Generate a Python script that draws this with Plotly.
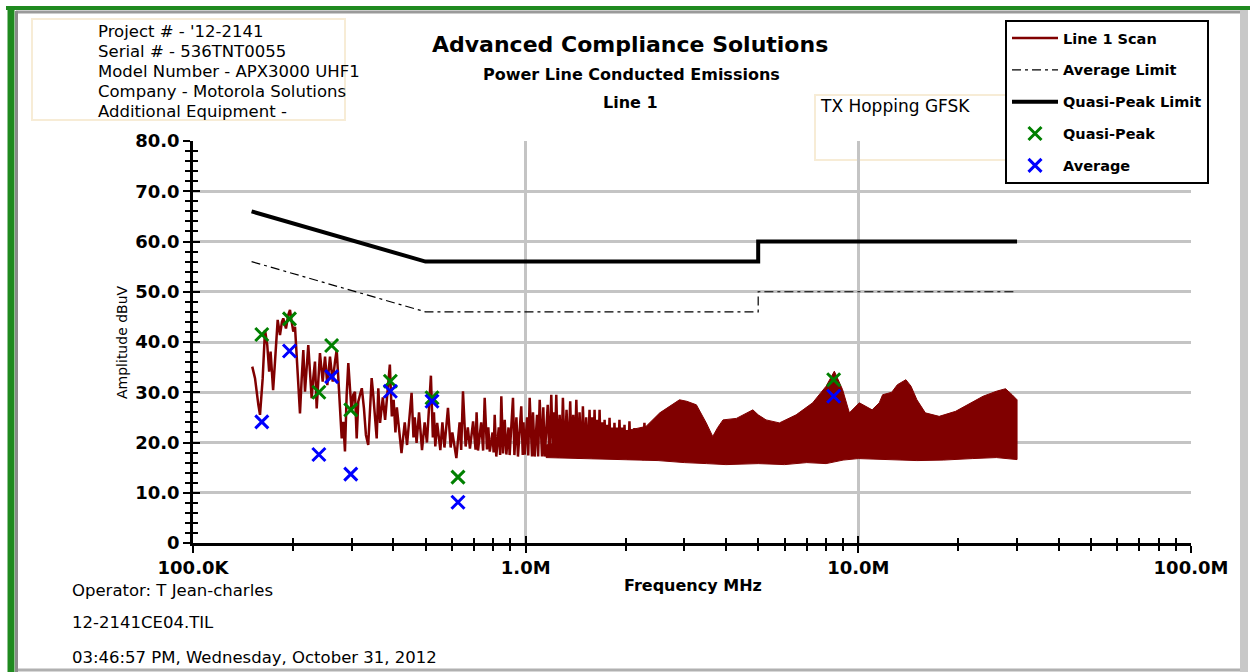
import plotly.graph_objects as go

# ---------------- data ----------------
# Line 1 scan, resolved part (MHz, dBuV)
scan_freq = [
    0.1507, 0.1536, 0.1572, 0.1590, 0.1620, 0.1646, 0.1672, 0.1694, 0.1711, 0.1741,
    0.1764, 0.1797, 0.1826, 0.1851, 0.1868, 0.1903, 0.1934, 0.1957, 0.1980, 0.2002,
    0.2026, 0.2058, 0.2097, 0.2122, 0.2146, 0.2171, 0.2197, 0.2221, 0.2247, 0.2273,
    0.2299, 0.2326, 0.2354, 0.2380, 0.2408, 0.2437, 0.2454, 0.2494, 0.2534, 0.2581,
    0.2630, 0.2672, 0.2704, 0.2734, 0.2766, 0.2799, 0.2830, 0.2863, 0.2897, 0.2930,
    0.2964, 0.2999, 0.3032, 0.3068, 0.3105, 0.3139, 0.3177, 0.3217, 0.3265, 0.3310,
    0.3363, 0.3404, 0.3444, 0.3482, 0.3524, 0.3566, 0.3606, 0.3650, 0.3720, 0.3780,
    0.3906, 0.3960, 0.4010, 0.4060, 0.4100, 0.4234, 0.4330, 0.4400, 0.4540, 0.4600,
    0.4640, 0.4700, 0.4780, 0.4880, 0.4970, 0.5050, 0.5190, 0.5260, 0.5300, 0.5350,
    0.5420, 0.5540, 0.5620, 0.5700, 0.5840, 0.5950, 0.6020, 0.6190, 0.6330, 0.6400,
    0.6480, 0.6600, 0.6700, 0.6800, 0.6950, 0.7070, 0.7120, 0.7190, 0.7350, 0.7450,
    0.7530, 0.7650, 0.7720, 0.7800, 0.7950, 0.8010, 0.8070, 0.8160, 0.8300, 0.8380,
    0.8450, 0.8550, 0.8650, 0.8750, 0.8880, 0.8950, 0.9160, 0.9250, 0.9380, 0.9480,
    0.9700, 0.9800, 0.9850, 0.9930, 1.0100, 1.0180, 1.0280, 1.0450, 1.0520, 1.0640,
    1.0820, 1.0900, 1.1020, 1.1200, 1.1300, 1.1410, 1.1650, 1.1780, 1.1940, 1.2080,
    1.2150, 1.2220, 1.2360, 1.2500, 1.2650, 1.2800, 1.2940, 1.3100, 1.3270, 1.3440,
    1.3610, 1.3760, 1.3900, 1.4050, 1.4200, 1.4360, 1.4520, 1.4690, 1.4860, 1.5030,
    1.5200, 1.5380, 1.5560, 1.5690, 1.5830, 1.5970, 1.6110, 1.6250, 1.6400, 1.6540,
    1.6680, 1.6820, 1.6970, 1.7120, 1.7270, 1.7420, 1.7570, 1.7720, 1.7870, 1.8020,
    1.8180, 1.8330, 1.8490, 1.8650, 1.8810, 1.8970, 1.9140, 1.9310, 1.9480, 1.9650,
    1.9820, 1.9990, 2.0160, 2.0330, 2.0510, 2.0690, 2.0870, 2.1050, 2.1230, 2.1410,
    2.1600, 2.1790, 2.1980, 2.2170, 2.2360, 2.2550, 2.2750, 2.3100]
scan_amp = [
    35.1, 32.8, 27.5, 25.5, 32.8, 42.4, 39.4, 34.1, 38.1, 30.4,
    36.1, 44.4, 41.4, 44.0, 44.7, 42.7, 45.4, 46.4, 44.0, 42.1,
    43.0, 36.1, 25.8, 32.8, 38.4, 30.1, 36.1, 39.4, 34.1, 28.8,
    32.8, 36.1, 26.8, 32.1, 37.8, 34.1, 32.1, 37.1, 31.4, 37.1,
    32.1, 36.1, 38.4, 32.8, 27.5, 20.8, 24.1, 18.2, 29.5, 35.8,
    30.8, 26.1, 29.5, 30.1, 20.8, 28.1, 29.5, 30.8, 26.8, 21.5,
    19.5, 27.5, 32.8, 29.5, 24.1, 20.8, 30.8, 23.9, 29.0, 24.5,
    35.5, 25.2, 28.5, 22.0, 27.0, 17.9, 24.0, 19.5, 29.9, 21.0,
    25.0, 19.9, 26.0, 18.5, 24.0, 20.0, 33.3, 21.0, 26.0, 19.2,
    23.9, 18.5, 24.0, 19.0, 26.9, 19.0, 22.0, 16.9, 24.0, 18.5,
    30.2, 19.2, 23.0, 18.8, 24.2, 18.6, 26.0, 18.4, 24.0, 18.4,
    28.9, 18.6, 23.0, 18.2, 22.0, 18.0, 25.5, 17.2, 23.0, 17.5,
    29.2, 17.8, 24.5, 17.6, 23.0, 17.5, 28.9, 17.5, 25.0, 17.2,
    27.2, 17.5, 24.0, 17.6, 25.0, 17.4, 28.9, 17.2, 26.0, 17.2,
    25.5, 17.2, 28.5, 17.2, 27.0, 17.2, 27.5, 17.2, 29.5, 17.2,
    26.0, 17.2, 29.5, 17.0, 25.5, 17.0, 28.9, 17.0, 26.5, 17.0,
    28.2, 17.0, 25.5, 17.0, 28.5, 16.8, 26.0, 16.8, 27.2, 17.0,
    25.0, 17.0, 26.5, 17.0, 25.0, 16.8, 26.5, 16.8, 24.5, 16.8,
    26.5, 17.0, 24.0, 17.0, 24.5, 17.0, 23.5, 17.0, 24.9, 16.8,
    23.0, 16.8, 23.9, 17.0, 23.0, 16.8, 24.5, 16.8, 23.0, 16.8,
    23.5, 16.8, 22.5, 16.6, 24.2, 16.6, 22.5, 16.6, 22.9, 16.6,
    22.0, 16.6, 22.5, 16.6, 23.0, 16.5, 23.9, 16.5]

# Line 1 scan, dense part: upper and lower envelope of the band (MHz, dBuV)
band_up_freq = [1.15, 1.5, 1.9, 2.3, 2.53, 2.7, 2.9, 3.05, 3.26, 3.49, 3.65, 3.78, 3.92, 4.3,
                4.82, 5.0, 5.28, 5.79, 6.5, 7.29, 8.0, 8.47, 8.97, 9.4, 10.07, 11.0, 11.56,
                11.83, 12.6, 13.1, 13.9, 14.4, 15.0, 15.9, 17.5, 19.6, 21.8, 23.7, 26.0,
                27.7, 29.0, 30.0]
band_up_amp = [19.5, 21.0, 22.0, 23.2, 25.9, 27.2, 28.5, 28.2, 27.5, 23.9, 21.2, 23.0, 24.5, 24.8,
               26.5, 25.5, 24.5, 23.9, 25.5, 27.9, 31.2, 34.2, 30.5, 25.9, 27.9, 26.5, 27.9,
               29.5, 30.0, 31.5, 32.5, 31.2, 28.5, 25.9, 25.2, 26.2, 27.9, 29.2, 30.2,
               30.7, 29.5, 28.5]
band_lo_freq = [1.15, 1.5, 2.0, 2.5, 3.0, 3.5, 4.0, 5.0, 6.0, 7.0, 8.0, 9.0, 10.0, 12.0,
                15.0, 18.0, 22.0, 26.0, 30.0]
band_lo_amp = [17.0, 16.8, 16.6, 16.4, 16.0, 15.8, 15.6, 15.8, 15.6, 16.0, 15.8, 16.5, 16.8, 16.6,
               16.4, 16.5, 16.8, 17.0, 16.6]

# Limits
limit_freq = [0.15, 0.5, 5.0, 5.0, 30.0]
qp_limit = [66.0, 56.0, 56.0, 60.0, 60.0]
avg_limit = [56.0, 46.0, 46.0, 50.0, 50.0]

# Measured points
meas_freq = [0.161, 0.195, 0.239, 0.261, 0.298, 0.392, 0.523, 0.626, 8.43]
qp_amp = [41.5, 44.6, 30.0, 39.3, 26.5, 32.2, 28.9, 13.1, 32.5]
av_amp = [24.1, 38.2, 17.6, 33.1, 13.7, 30.2, 28.2, 8.1, 29.2]

# Axes
y_ticks = [0, 10, 20, 30, 40, 50, 60, 70, 80]
y_tick_text = ["0", "10.0", "20.0", "30.0", "40.0", "50.0", "60.0", "70.0", "80.0"]
x_ticks = [0.1, 1, 10, 100]
x_tick_text = ["100.0K", "1.0M", "10.0M", "100.0M"]
x_minor = [m * d for d in (0.1, 1, 10) for m in range(2, 10)]
y_minor = [v for v in range(0, 81, 2) if v % 10]

info_lines = ["Project # - '12-2141", "Serial # - 536TNT0055", "Model Number - APX3000 UHF1",
              "Company - Motorola Solutions", "Additional Equipment -"]
footer_lines = ["Operator: T Jean-charles", "12-2141CE04.TIL",
                "03:46:57 PM, Wednesday, October 31, 2012"]

# ---------------- layout helpers ----------------
W, H = 1250, 672
L, R, T, B = 193, 1191, 141, 543
FONT = "DejaVu Sans"


def px(x):
    return (x - L) / (R - L)


def py(y):
    return (B - y) / (B - T)


fig = go.Figure()

# band polygon (dense part of scan)
band_x = band_up_freq + band_lo_freq[::-1]
band_y = band_up_amp + band_lo_amp[::-1]
fig.add_trace(go.Scatter(x=band_x, y=band_y, mode="lines", fill="toself",
                         fillcolor="#800000", line=dict(color="#800000", width=1),
                         showlegend=False, hoverinfo="skip", legendgroup="scan"))
fig.add_trace(go.Scatter(x=scan_freq, y=scan_amp, mode="lines", name="Line 1 Scan",
                         line=dict(color="#800000", width=2.5), legendgroup="scan"))
fig.add_trace(go.Scatter(x=limit_freq, y=avg_limit, mode="lines", name="Average Limit",
                         line=dict(color="black", width=1.2, dash="9px,4px,3px,4px"),
                         legendgroup="al"))
fig.add_trace(go.Scatter(x=limit_freq, y=qp_limit, mode="lines", name="Quasi-Peak Limit",
                         line=dict(color="black", width=4), legendgroup="ql"))
fig.add_trace(go.Scatter(x=meas_freq, y=qp_amp, mode="markers", name="Quasi-Peak",
                         marker=dict(symbol="x-thin", size=13, color="#008000",
                                     line=dict(color="#008000", width=3)),
                         legendgroup="qp"))
fig.add_trace(go.Scatter(x=meas_freq, y=av_amp, mode="markers", name="Average",
                         marker=dict(symbol="x-thin", size=13, color="#0000ff",
                                     line=dict(color="#0000ff", width=3)),
                         legendgroup="av"))
# dummy trace to show the overlay axes (inner half of crossing ticks)
fig.add_trace(go.Scatter(x=[1], y=[-10], xaxis="x2", yaxis="y2", mode="markers",
                         marker=dict(opacity=0), showlegend=False, hoverinfo="skip"))

tick_font = dict(family=FONT, size=18, color="black", weight="bold")

fig.update_layout(
    width=W, height=H,
    margin=dict(l=L, r=W - R, t=T, b=H - B, pad=0),
    paper_bgcolor="white", plot_bgcolor="white",
    showlegend=True,
    legend=dict(x=px(1005), y=py(20), xanchor="left", yanchor="top",
                bgcolor="white", bordercolor="black", borderwidth=2,
                font=dict(family=FONT, size=14.5, color="black", weight="bold"),
                traceorder="grouped", tracegroupgap=10, itemwidth=46),
    xaxis=dict(type="log", range=[-1, 2], tickmode="array", tickvals=x_ticks,
               ticktext=x_tick_text, tickfont=tick_font, ticks="outside", ticklen=7,
               tickwidth=2, tickcolor="black", showline=True, linecolor="black",
               linewidth=2.5, showgrid=True, gridcolor="#c4c4c4", gridwidth=3,
               zeroline=False, fixedrange=True,
               minor=dict(tickvals=x_minor, ticks="outside", ticklen=5, tickwidth=2,
                          tickcolor="black", showgrid=False)),
    yaxis=dict(range=[0, 80], tickmode="array", tickvals=y_ticks, ticktext=y_tick_text,
               tickfont=tick_font, ticks="outside", ticklen=7, tickwidth=2,
               tickcolor="black", showline=True, linecolor="black", linewidth=2.5,
               showgrid=True, gridcolor="#c4c4c4", gridwidth=3, zeroline=False,
               fixedrange=True,
               minor=dict(tickvals=y_minor, ticks="outside", ticklen=5, tickwidth=2,
                          tickcolor="black", showgrid=False)),
    xaxis2=dict(type="log", range=[-1, 2], overlaying="x", anchor="y", side="bottom",
                tickmode="array", tickvals=x_ticks, ticks="inside", ticklen=7, tickwidth=2,
                tickcolor="black", showticklabels=False, showgrid=False, showline=False,
                zeroline=False, fixedrange=True,
                minor=dict(tickvals=x_minor, ticks="inside", ticklen=5, tickwidth=2,
                           tickcolor="black", showgrid=False)),
    yaxis2=dict(range=[0, 80], overlaying="y", anchor="x", side="left",
                tickmode="array", tickvals=y_ticks, ticks="inside", ticklen=7, tickwidth=2,
                tickcolor="black", showticklabels=False, showgrid=False, showline=False,
                zeroline=False, fixedrange=True,
                minor=dict(tickvals=y_minor, ticks="inside", ticklen=5, tickwidth=2,
                           tickcolor="black", showgrid=False)),
)

ann = []
for i, t in enumerate(info_lines):
    ann.append(dict(text=t, x=px(96), y=py(31 + 20 * i), xanchor="left", yanchor="middle",
                    font=dict(family=FONT, size=16.5, color="black")))
ann.append(dict(text="Advanced Compliance Solutions", x=px(630), y=py(45), xanchor="center",
                yanchor="middle", font=dict(family=FONT, size=22, color="black", weight="bold")))
ann.append(dict(text="Power Line Conducted Emissions", x=px(631), y=py(75), xanchor="center",
                yanchor="middle", font=dict(family=FONT, size=16, color="black", weight="bold")))
ann.append(dict(text="Line 1", x=px(630), y=py(102), xanchor="center", yanchor="middle",
                font=dict(family=FONT, size=16, color="black", weight="bold")))
ann.append(dict(text="TX Hopping GFSK", x=px(818), y=py(106), xanchor="left", yanchor="middle",
                font=dict(family=FONT, size=17, color="black")))
ann.append(dict(text="Amplitude dBuV", x=px(122), y=py(342), xanchor="center", yanchor="middle",
                textangle=-90, font=dict(family=FONT, size=14, color="black")))
ann.append(dict(text="Frequency MHz", x=px(693), y=py(585), xanchor="center", yanchor="middle",
                font=dict(family=FONT, size=16, color="black", weight="bold")))
for t, yy in zip(footer_lines, [590, 622, 657]):
    ann.append(dict(text=t, x=px(70), y=py(yy), xanchor="left", yanchor="middle",
                    font=dict(family=FONT, size=16.5, color="black")))
for a in ann:
    a.update(xref="paper", yref="paper", showarrow=False)
fig.update_layout(annotations=ann)

shapes = [
    # info box and TX box (faint cream frames)
    dict(type="rect", x0=px(32), x1=px(345), y0=py(19), y1=py(120),
         line=dict(color="#f7ecd6", width=2), fillcolor="rgba(0,0,0,0)", layer="below"),
    dict(type="rect", x0=px(815), x1=px(1006), y0=py(95), y1=py(160),
         line=dict(color="#f7ecd6", width=2), fillcolor="rgba(0,0,0,0)", layer="below"),
    # outer frame
    dict(type="line", x0=px(6), x1=px(1250), y0=py(8), y1=py(8),
         line=dict(color="#1f8a1f", width=4)),
    dict(type="line", x0=px(11), x1=px(11), y0=py(6), y1=py(672),
         line=dict(color="#1f8a1f", width=7)),
    dict(type="line", x0=px(16), x1=px(1240), y0=py(12), y1=py(12),
         line=dict(color="#9a9a9a", width=3)),
    dict(type="line", x0=px(16.5), x1=px(16.5), y0=py(11), y1=py(672),
         line=dict(color="#8a8a8a", width=3)),
    dict(type="line", x0=px(1244), x1=px(1244), y0=py(10), y1=py(672),
         line=dict(color="#c8c8c8", width=8)),
    dict(type="line", x0=px(18), x1=px(1240), y0=py(670), y1=py(670),
         line=dict(color="#b0b0b0", width=3)),
]
for s in shapes:
    s.update(xref="paper", yref="paper")
fig.update_layout(shapes=shapes)

fig.write_html("out.html", config={"displayModeBar": False},
               post_script="document.body.style.margin='0';document.body.style.overflow='hidden';")
